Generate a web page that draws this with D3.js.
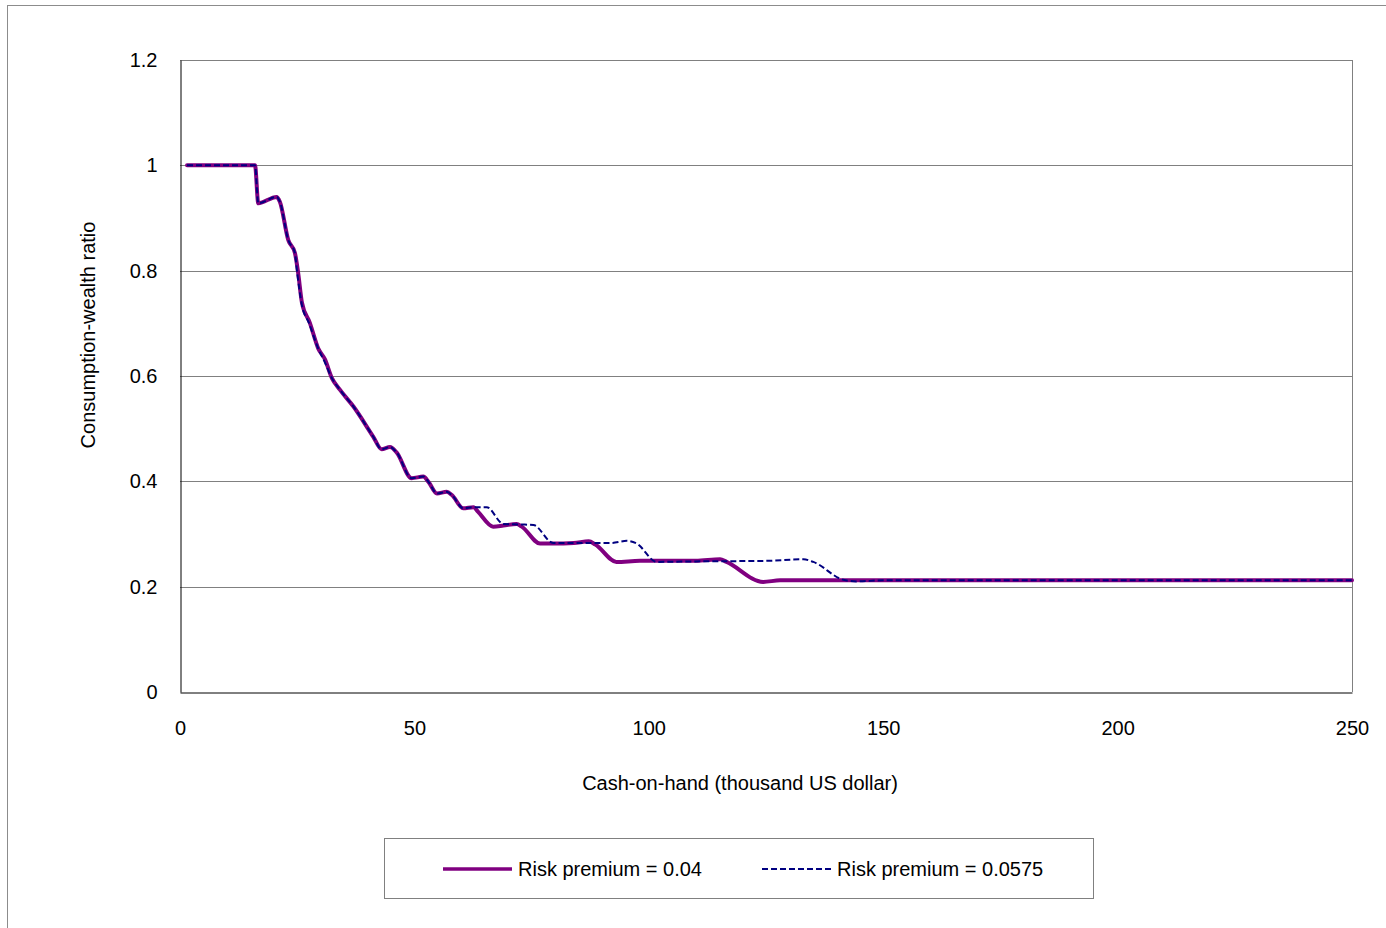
<!DOCTYPE html>
<html>
<head>
<meta charset="utf-8">
<script src="https://cdn.jsdelivr.net/npm/d3@7"></script>
<style>
  html, body { margin: 0; padding: 0; background: #fff; }
  svg { display: block; font-family: "Liberation Sans", Arial, sans-serif; }
</style>
</head>
<body>
<svg id="chart" width="1386" height="928"></svg>
<script>
// ---- data ----
const xTicks = [0, 50, 100, 150, 200, 250];
const yTicks = [0, 0.2, 0.4, 0.6, 0.8, 1, 1.2];
const yTickLabels = ["0", "0.2", "0.4", "0.6", "0.8", "1", "1.2"];
const seriesNames = ["Risk premium = 0.04", "Risk premium = 0.0575"];

const cashA = [1.5, 16, 16.7, 20.6, 21.3, 23.1, 24.5, 25.2, 26.0, 27.7, 29.5, 30.9, 32.4, 34.1, 37.0, 41.2, 43.0, 44.8, 46.2, 49.4, 51.9, 53.0, 54.8, 56.9, 58.0, 60.4, 62.6, 63.6, 66.8, 69.0, 71.8, 72.9, 76.8, 79.6, 84.0, 87.2, 88.6, 93.1, 98.1, 110, 115.2, 116.6, 124.4, 128, 140, 250];
const ratioA = [1.0, 1.0, 0.928, 0.940, 0.931, 0.858, 0.834, 0.796, 0.740, 0.701, 0.652, 0.632, 0.596, 0.574, 0.542, 0.485, 0.461, 0.465, 0.455, 0.406, 0.409, 0.399, 0.377, 0.380, 0.374, 0.349, 0.351, 0.342, 0.314, 0.316, 0.319, 0.314, 0.282, 0.282, 0.283, 0.286, 0.280, 0.247, 0.249, 0.249, 0.252, 0.247, 0.209, 0.212, 0.212, 0.212];

const cashB = [1.5, 16, 16.7, 20.6, 21.3, 23.1, 24.5, 25.0, 26.0, 27.5, 29.5, 30.9, 32.4, 34.1, 37.0, 41.2, 43.0, 44.8, 46.2, 49.4, 51.9, 53.0, 54.8, 56.9, 58.0, 60.4, 62.6, 65.4, 69.0, 73.0, 75.4, 79.6, 87.0, 92.0, 95.3, 97.4, 101.7, 110, 125, 133.0, 135.1, 141.5, 144.3, 150, 250];
const ratioB = [1.0, 1.0, 0.928, 0.940, 0.931, 0.858, 0.834, 0.796, 0.735, 0.701, 0.652, 0.626, 0.596, 0.574, 0.542, 0.485, 0.461, 0.465, 0.455, 0.406, 0.409, 0.399, 0.377, 0.380, 0.374, 0.349, 0.351, 0.351, 0.319, 0.318, 0.317, 0.283, 0.283, 0.283, 0.287, 0.282, 0.247, 0.248, 0.249, 0.252, 0.247, 0.213, 0.210, 0.212, 0.212];

// ---- layout ----
const svg = d3.select("#chart");
const L = 180, R = 1352, T = 60, B = 692;
const x = d3.scaleLinear().domain([0, 250]).range([L, R]);
const y = d3.scaleLinear().domain([0, 1.2]).range([B, T]);

// outer chart border
svg.append("rect").attr("x", 7.5).attr("y", 5.5).attr("width", 1400).attr("height", 950)
  .attr("fill", "#fff").attr("stroke", "#8c8c8c").attr("stroke-width", 1);

// gridlines
svg.append("g").selectAll("line").data(yTicks.filter(d => d > 0)).join("line")
  .attr("x1", L).attr("x2", R)
  .attr("y1", d => Math.round(y(d)) + 0.5).attr("y2", d => Math.round(y(d)) + 0.5)
  .attr("stroke", "#808080").attr("stroke-width", 1);

// right border
svg.append("line").attr("x1", R + 0.5).attr("x2", R + 0.5).attr("y1", T).attr("y2", B)
  .attr("stroke", "#808080").attr("stroke-width", 1);

// y axis
const yAxis = d3.axisLeft(y).tickValues(yTicks).tickFormat((d, i) => yTickLabels[i]).tickSize(0).tickPadding(23);
const gy = svg.append("g").attr("transform", `translate(${L + 0.5},0)`).call(yAxis);
gy.select(".domain").attr("stroke", "#000");
gy.selectAll("text").attr("font-size", 20).attr("fill", "#000").attr("font-family", "Liberation Sans, Arial, sans-serif");

// x axis
const xAxis = d3.axisBottom(x).tickValues(xTicks).tickFormat(d3.format("d")).tickSize(0).tickPadding(28);
const gx = svg.append("g").attr("transform", `translate(0,${B + 0.5})`).call(xAxis);
gx.select(".domain").attr("stroke", "#000");
gx.selectAll("text").attr("font-size", 20).attr("fill", "#000").attr("font-family", "Liberation Sans, Arial, sans-serif");

// axis titles
svg.append("text").attr("x", 740).attr("y", 790).attr("text-anchor", "middle")
  .attr("font-size", 20).text("Cash-on-hand (thousand US dollar)");
svg.append("text").attr("transform", "translate(95,335) rotate(-90)").attr("text-anchor", "middle")
  .attr("font-size", 20).text("Consumption-wealth ratio");

// lines
const line = d3.line().x(d => x(d[0])).y(d => y(d[1])).curve(d3.curveMonotoneX);
const dataA = cashA.map((c, i) => [c, ratioA[i]]);
const dataB = cashB.map((c, i) => [c, ratioB[i]]);

svg.append("path").datum(dataA).attr("d", line).attr("fill", "none")
  .attr("stroke", "#800080").attr("stroke-width", 4).attr("stroke-linejoin", "round").attr("stroke-linecap", "round");
svg.append("path").datum(dataB).attr("d", line).attr("fill", "none")
  .attr("stroke", "#000080").attr("stroke-width", 2).attr("stroke-dasharray", "6,3");

// legend
const lg = svg.append("g");
lg.append("rect").attr("x", 384.5).attr("y", 838.5).attr("width", 709).attr("height", 60)
  .attr("fill", "#fff").attr("stroke", "#808080").attr("stroke-width", 1);
lg.append("line").attr("x1", 443).attr("x2", 512).attr("y1", 869).attr("y2", 869)
  .attr("stroke", "#800080").attr("stroke-width", 3.5);
lg.append("text").attr("x", 518).attr("y", 876).attr("font-size", 20).text(seriesNames[0]);
lg.append("line").attr("x1", 762).attr("x2", 831).attr("y1", 869).attr("y2", 869)
  .attr("stroke", "#000080").attr("stroke-width", 2).attr("stroke-dasharray", "6,3");
lg.append("text").attr("x", 837).attr("y", 876).attr("font-size", 20).text(seriesNames[1]);
</script>
</body>
</html>
